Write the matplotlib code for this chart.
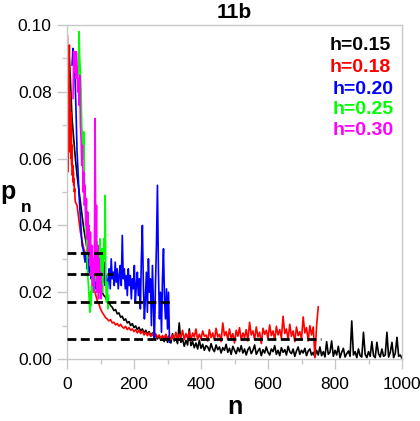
import numpy as np
import matplotlib
matplotlib.use("Agg")
from matplotlib import pyplot as plt

plt.rcParams['font.family'] = ['Liberation Sans', 'DejaVu Sans']

# values are p_n in thousandths (p_n * 1000)
# h=0.15 (black), n = 5, 10, ..., 1000
black_n = np.arange(5, 1001, 5)
black_p = [93, 84, 72, 66, 60, 55, 51, 47, 43, 39,
           36, 33, 31, 29, 27.5, 26, 24.5, 23, 22, 21,
           20, 19, 18.5, 17.5, 17, 16, 15.5, 14.5, 14.8, 13.5,
           13.8, 12.5, 12.8, 11.6, 12.0, 10.8, 11.2, 10.0, 10.6, 9.4,
           9.9, 8.8, 9.5, 8.3, 9.0, 7.8, 8.6, 7.5, 8.2, 6.9,
           7.8, 6.5, 7.4, 6.0, 7.0, 5.6, 6.8, 5.2, 7.2, 5.0,
           6.4, 4.8, 7.6, 5.4, 6.2, 4.6, 10.8, 5.0, 6.0, 3.8,
           5.6, 4.2, 9.0, 4.0, 5.2, 3.4, 4.8, 3.0, 5.6, 3.2,
           4.4, 2.6, 4.0, 3.6, 2.4, 4.6, 3.0, 2.2, 4.2, 2.8,
           3.6, 1.8, 3.4, 2.6, 4.4, 2.0, 3.2, 1.4, 3.8, 2.6,
           1.6, 3.4, 2.2, 4.0, 1.8, 3.0, 1.2, 2.8, 3.6, 1.6,
           2.6, 4.2, 1.4, 2.4, 3.2, 1.0, 2.8, 1.8, 3.6, 2.0,
           1.2, 3.0, 2.2, 4.0, 1.4, 2.6, 1.0, 3.4, 2.0, 2.8,
           1.2, 3.8, 2.2, 1.6, 3.0, 0.8, 2.4, 3.6, 1.4, 2.6,
           1.8, 3.2, 1.0, 2.4, 3.0, 1.2, 2.0, 0.6, 2.6, 1.2,
           3.6, 1.0, 2.2, 0.6, 5.2, 1.4, 2.0, 5.4, 0.8, 2.6,
           1.2, 3.8, 0.4, 2.0, 3.2, 0.6, 1.6, 2.4, 0.8, 11.4,
           1.2, 2.2, 0.4, 3.0, 1.0, 0.6, 8.0, 1.4, 0.4, 2.2,
           0.8, 5.2, 1.0, 0.4, 5.0, 1.6, 0.6, 3.0, 0.8, 1.2,
           8.0, 0.6, 2.0, 5.0, 0.4, 1.8, 6.5, 0.8, 1.2, 0.2]

# h=0.18 (red), n = 0..24 then 25, 30, ..., 750
red_n_early = np.arange(0, 25)
red_p_early = [60, 97, 56, 92, 64, 88, 70, 94, 62, 80, 66, 74, 60, 70, 58,
               64, 55, 58, 53, 56, 52, 54, 50, 51, 48]
red_n = np.arange(25, 751, 5)
red_p = [47, 46, 42, 38, 35.5, 33, 31.5, 29.5, 27.5, 26,
         23.5, 21.5, 19.5, 17.5, 16.5, 15, 14, 13.2, 12.4, 12.0,
         11.4, 11.8, 10.8, 11.0, 10.2, 10.6, 9.8, 10.4, 9.6, 9.2,
         9.8, 8.8, 9.4, 8.6, 9.0, 8.2, 8.8, 7.8, 8.6, 7.6,
         8.4, 7.2, 8.0, 7.0, 7.8, 6.8, 7.6, 6.6, 7.4, 6.4,
         7.2, 6.2, 7.0, 6.0, 7.4, 6.2, 7.0, 5.8, 7.2, 6.0,
         8.0, 5.6, 7.4, 6.4, 8.6, 5.8, 7.6, 6.2, 8.2, 5.4,
         7.8, 6.6, 9.0, 5.8, 7.4, 6.0, 8.4, 6.8, 7.2, 5.4,
         8.8, 6.4, 7.8, 5.6, 9.2, 6.6, 7.4, 5.2, 10.8, 7.0,
         8.2, 5.8, 9.0, 6.2, 7.6, 4.8, 8.6, 6.8, 9.4, 5.6,
         7.8, 6.4, 8.8, 5.4, 11.0, 7.2, 8.4, 5.8, 9.6, 6.6,
         8.0, 4.6, 9.2, 7.4, 8.6, 6.0, 10.2, 7.0, 8.4, 5.6,
         9.8, 7.2, 8.8, 6.2, 12.8, 7.6, 9.0, 5.8, 10.4, 6.8,
         8.4, 5.2, 9.6, 7.0, 8.2, 6.0, 12.6, 7.8, 9.4, 5.4,
         10.0, 7.2, 9.6, 0.4, 10.0, 15.6]

# h=0.20 (blue), n = 15, 18, ..., 306
blue_n = np.arange(15, 307, 3)
blue_p = [88, 93, 90, 84, 74, 62, 56, 49, 44, 39,
          34, 33, 31, 29, 32, 27, 30, 26, 28, 24,
          26, 22, 25, 21, 23, 20, 24, 22, 26, 21,
          27, 23, 29, 22, 25, 20, 24, 27, 21, 30,
          24, 26, 22, 29, 23, 27, 21, 25, 28, 22,
          37, 24, 27, 21, 25, 19, 27, 22, 25, 18,
          24, 21, 28, 17, 22, 26, 19, 24, 15, 30,
          40, 22, 12, 18, 26, 14, 30, 20, 24, 10,
          28, 16, 6, 22, 34, 52, 26, 12, 20, 8,
          24, 33, 18, 12, 21, 9, 20, 5]

# h=0.25 (green), n = 34, 36, ..., 124
green_n = np.arange(34, 125, 2)
green_p = [80, 98, 90, 86, 80, 70, 66, 60, 68, 55,
           48, 42, 36, 30, 25, 22, 18, 14, 20, 16,
           24, 20, 26, 22, 28, 24, 32, 27, 35, 29,
           33, 26, 36, 30, 24, 33, 20, 28, 36, 30,
           49, 22, 17, 23, 15, 19]

# h=0.30 (magenta), n = 18, 20, ..., 104
mag_n = np.arange(18, 105, 2)
mag_p = [78, 92, 86, 92, 84, 92, 88, 80, 84, 76,
         85, 70, 66, 58, 64, 50, 56, 46, 52, 40,
         48, 36, 44, 32, 40, 28, 38, 25, 34, 22,
         30, 20, 36, 72, 26, 46, 20, 34, 18, 30,
         20, 26, 18, 22]

# dashed reference levels (thousandths) and their end n
dash_levels = [31.7, 25.5, 17.2, 5.9]
dash_ends = [108, 137, 313, 757]

labels = ['h=0.15', 'h=0.18', 'h=0.20', 'h=0.25', 'h=0.30']
colors = ['#000000', '#ff0000', '#0000ff', '#00ff00', '#ff00ff']

fig = plt.figure(figsize=(4.2, 4.21), dpi=100)
ax = fig.add_axes([67 / 420, 1 - 359 / 421, 335 / 420, 334 / 421])

lw = 1.2
ax.plot(black_n, np.array(black_p) / 1000, color=colors[0], lw=lw)
ax.plot(np.concatenate([red_n_early, red_n]),
        np.array(red_p_early + red_p) / 1000, color=colors[1], lw=lw)
ax.plot(blue_n, np.array(blue_p) / 1000, color=colors[2], lw=lw)
ax.plot(green_n, np.array(green_p) / 1000, color=colors[3], lw=lw)
ax.plot(mag_n, np.array(mag_p) / 1000, color=colors[4], lw=lw)

for lev, end in zip(dash_levels, dash_ends):
    ax.plot([0, end], [lev / 1000, lev / 1000], color='black', lw=2.0,
            dashes=(3.2, 1.6), zorder=5)

ax.set_xlim(0, 1000)
ax.set_ylim(0, 0.10)
ax.set_xticks(np.arange(0, 1001, 200))
ax.set_xticks(np.arange(0, 1001, 100), minor=True)
ax.set_yticks(np.arange(0, 0.101, 0.02))
ax.set_yticks(np.arange(0, 0.101, 0.01), minor=True)
ax.set_yticklabels(['%.2f' % v for v in np.arange(0, 0.101, 0.02)])
for s in ax.spines.values():
    s.set_color('#c8c8c8')
    s.set_linewidth(1.0)
ax.tick_params(which='major', direction='out', length=7, width=1.0,
               color='#c8c8c8', labelsize=12.5, pad=4)
ax.tick_params(which='minor', direction='out', length=3.5, width=1.0,
               color='#c8c8c8')
ax.tick_params(axis='x', which='major', pad=6)

ax.set_title('11b', fontsize=15, fontweight='bold', pad=5)

# coloured legend text, right aligned
leg_y = [45, 68, 89, 110, 131]
leg_x = [391, 391, 394, 394, 394]
for lab, c, yy, xx in zip(labels, colors, leg_y, leg_x):
    fig.text(xx / 420, 1 - yy / 421, lab, color=c, fontsize=14,
             fontweight='bold', ha='right', va='center')

# axis labels
fig.text(8 / 420, 1 - 192 / 421, 'p', fontsize=18, fontweight='bold',
         ha='center', va='center')
fig.text(26 / 420, 1 - 207 / 421, 'n', fontsize=12.5, fontweight='bold',
         ha='center', va='center')
fig.text(235 / 420, 1 - 407 / 421, 'n', fontsize=18, fontweight='bold',
         ha='center', va='center')

fig.savefig('out.png', dpi=100)
